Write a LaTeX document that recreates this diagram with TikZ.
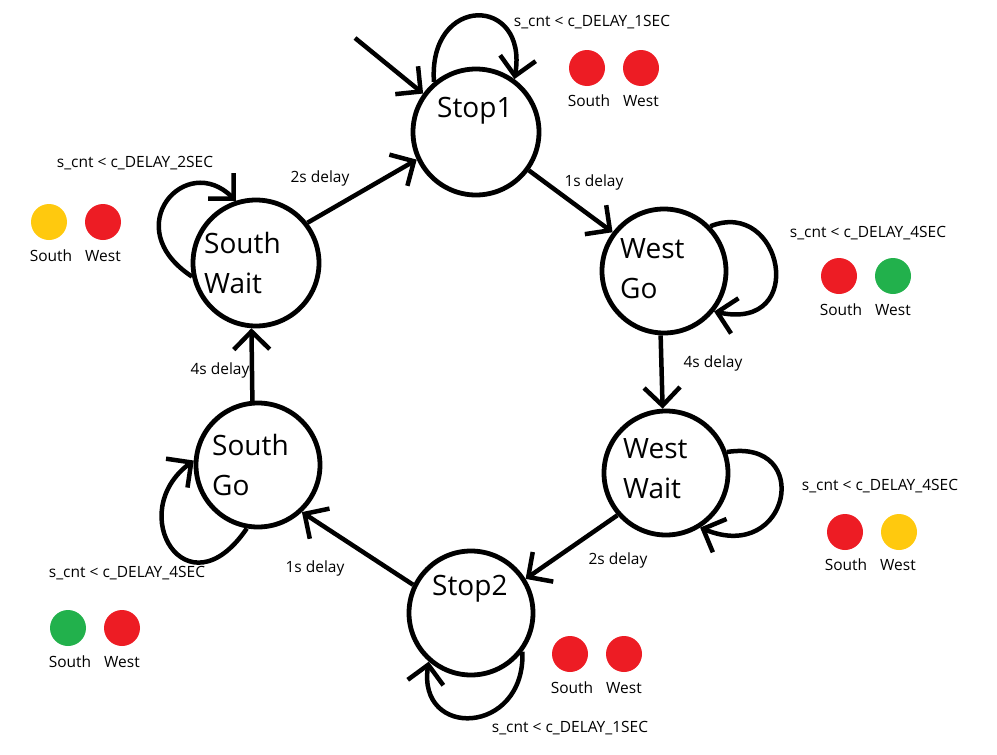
\documentclass[tikz,border=0pt]{standalone}
\usepackage{fontspec}
\setmainfont{Open Sans}
\usetikzlibrary{arrows.meta}
\definecolor{lred}{HTML}{ED1C24}
\definecolor{lyellow}{HTML}{FFC90E}
\definecolor{lgreen}{HTML}{22B14C}
\tikzset{
  state/.style={circle, draw, line width=4.8pt, inner sep=0pt},
  stxt/.style={anchor=base west, inner sep=0pt, font=\fontsize{28}{30}\selectfont},
  small/.style={inner sep=0pt, font=\fontsize{15.5}{17}\selectfont},
  light/.style={circle, inner sep=0pt, minimum size=36pt},
  arr/.style={line width=4.5pt, -{Straight Barb[length=18pt,width=36pt]}},
}
\begin{document}
\begin{tikzpicture}[x=1pt,y=-1pt]
\useasboundingbox (0,0) rectangle (997,755);
% states
\node[state, minimum size=126pt] (s1) at (476,132) {};
\node[state, minimum size=124pt] (wg) at (664,271) {};
\node[state, minimum size=124pt] (ww) at (666,473) {};
\node[state, minimum size=124pt] (s2) at (471,613) {};
\node[state, minimum size=124pt] (sg) at (258,465) {};
\node[state, minimum size=126pt] (sw) at (256,263) {};
% state texts
\node[stxt] (t1) at (437,117) {Stop1};
\node[stxt] (t2a) at (620,258) {West};
\node[stxt] (t2b) at (620,298) {Go};
\node[stxt] (t3a) at (623,458) {West};
\node[stxt] (t3b) at (623,498) {Wait};
\node[stxt] (t4) at (432,595) {Stop2};
\node[stxt] (t5a) at (212,455) {South};
\node[stxt] (t5b) at (212,495) {Go};
\node[stxt] (t6a) at (204,253) {South};
\node[stxt] (t6b) at (204,293) {Wait};
% initial
\coordinate (init) at (355,38);
\draw[arr] (init) -- (s1.144);
% transitions
\draw[arr] (s1.-36) -- (wg.143);
\draw[arr] (wg.267) -- (ww.93);
\draw[arr] (ww.221) -- (s2.32);
\draw[arr] (s2.154) -- (sg.-47);
\draw[arr] (sg.95) -- (sw.266);
\draw[arr] (sw.38) -- (s1.205);
% self loops
\draw[arr] (s1.130) .. controls +(-6,-88) and +(14,-84) .. (s1.54);
\draw[arr] (wg.44) .. controls +(72,-29) and +(95,20) .. (wg.-39);
\draw[arr] (ww.19) .. controls +(87,-14) and +(90,37) .. (ww.-58);
\draw[arr] (s2.-37) .. controls +(3,84) and +(-12,78) .. (s2.229);
\draw[arr] (sg.260) .. controls +(-60,88) and +(-70,52) .. (sg.176);
\draw[arr] (sw.192) .. controls +(-75,-49) and +(-50,-50) .. (sw.108);
% transition labels
\node[small] (d1) at (594,182) {1s delay};
\node[small] (d2) at (713,363) {4s delay};
\node[small] (d3) at (618,560) {2s delay};
\node[small] (d4) at (315,568) {1s delay};
\node[small] (d5) at (220,370) {4s delay};
\node[small] (d6) at (320,178) {2s delay};
% loop conditions
\node[small] (c1) at (592,22) {s\_cnt < c\_DELAY\_1SEC};
\node[small] (c2) at (868,233) {s\_cnt < c\_DELAY\_4SEC};
\node[small] (c3) at (880,486) {s\_cnt < c\_DELAY\_4SEC};
\node[small] (c4) at (570,728) {s\_cnt < c\_DELAY\_1SEC};
\node[small] (c5) at (127,573) {s\_cnt < c\_DELAY\_4SEC};
\node[small] (c6) at (135,163) {s\_cnt < c\_DELAY\_2SEC};
% lights: Stop1
\node[light, fill=lred] (l1s) at (587,68) {};
\node[light, fill=lred] (l1w) at (641,68) {};
\node[small] (n1s) at (589,101) {South};
\node[small] (n1w) at (641,101) {West};
% West Go
\node[light, fill=lred] (l2s) at (839,276) {};
\node[light, fill=lgreen] (l2w) at (893,276) {};
\node[small] (n2s) at (841,310) {South};
\node[small] (n2w) at (893,310) {West};
% West Wait
\node[light, fill=lred] (l3s) at (845,532) {};
\node[light, fill=lyellow] (l3w) at (899,532) {};
\node[small] (n3s) at (846,565) {South};
\node[small] (n3w) at (898,565) {West};
% Stop2
\node[light, fill=lred] (l4s) at (570,654) {};
\node[light, fill=lred] (l4w) at (624,654) {};
\node[small] (n4s) at (572,688) {South};
\node[small] (n4w) at (624,688) {West};
% South Go
\node[light, fill=lgreen] (l5s) at (68,628) {};
\node[light, fill=lred] (l5w) at (122,628) {};
\node[small] (n5s) at (70,662) {South};
\node[small] (n5w) at (122,662) {West};
% South Wait
\node[light, fill=lyellow] (l6s) at (49,222) {};
\node[light, fill=lred] (l6w) at (103,222) {};
\node[small] (n6s) at (51,256) {South};
\node[small] (n6w) at (103,256) {West};
\end{tikzpicture}
\end{document}
